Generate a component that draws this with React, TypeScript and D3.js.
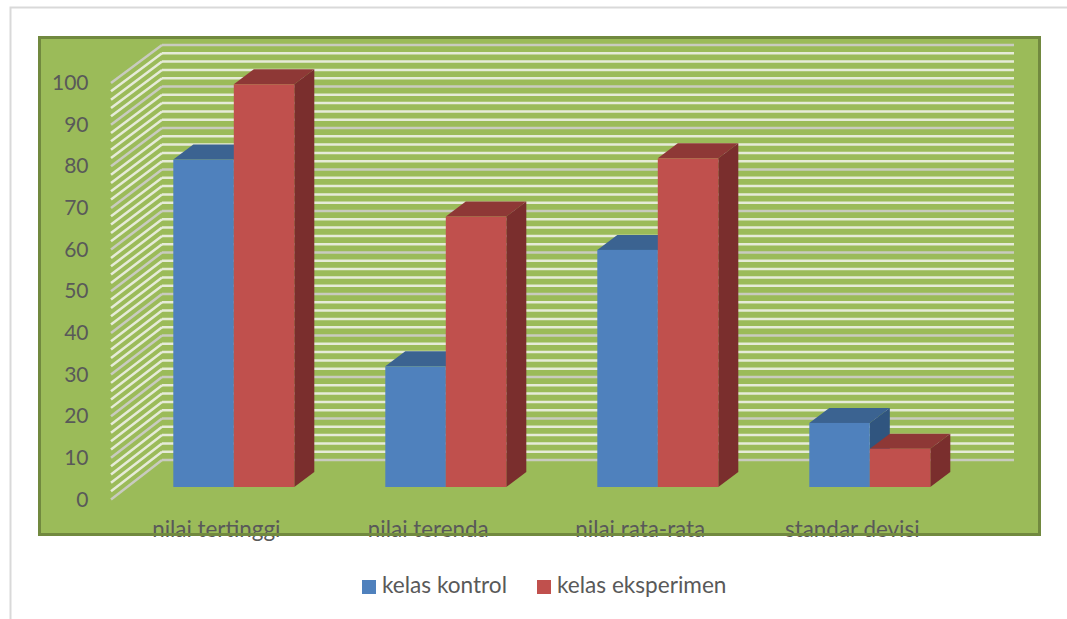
import React from "react";
import * as d3 from "d3";

// Chart data
const categories = ["nilai tertinggi", "nilai terenda", "nilai rata-rata", "standar devisi"];
const kelasKontrol = [78.7, 29, 57, 15.4];
const kelasEksperimen = [96.8, 65, 79, 9.2];
const seriesNames = ["kelas kontrol", "kelas eksperimen"];
const axisTicks = [0, 10, 20, 30, 40, 50, 60, 70, 80, 90, 100];

const WIDTH = 1067;
const HEIGHT = 619;
const FONT = "Lato, 'Open Sans', sans-serif";
const TEXT = "#595959";

const palette = [
  { front: "#4f81bd", top: "#3b6391", side: "#30557f" },
  { front: "#c0504d", top: "#8e3836", side: "#7a2e2d" },
];

// Oblique projection: the side wall runs from the front plane to the back wall.
const wallLeft = 162;
const wallRight = 1014;
const frontLeft = 111;
const yFront = d3.scaleLinear().domain([0, 100]).range([499.5, 83]);
const yWall = d3.scaleLinear().domain([0, 100]).range([460, 45]);
const yBar = d3.scaleLinear().domain([0, 100]).range([487, 71]);

const xGroup = d3.scaleBand<string>().domain(categories).range([127.8, 127.8 + 4 * 212]);
const xSeries = d3.scaleBand<number>().domain([0, 1]).range([-60.5, 60.5]);
const depthX = 20;
const depthY = -15;

const gridValues = d3.range(0, 101, 2);

function Bar({ x, w, value, colors }: { x: number; w: number; value: number; colors: typeof palette[number] }) {
  const top = yBar(value);
  const bottom = yBar(0);
  const face = (pts: [number, number][]) => {
    const p = d3.path();
    pts.forEach(([a, b], i) => (i ? p.lineTo(a, b) : p.moveTo(a, b)));
    p.closePath();
    return p.toString();
  };
  return (
    <g>
      <path
        d={face([[x, top], [x + depthX, top + depthY], [x + w + depthX, top + depthY], [x + w, top]])}
        fill={colors.top}
      />
      <path
        d={face([[x + w, top], [x + w + depthX, top + depthY], [x + w + depthX, bottom + depthY], [x + w, bottom]])}
        fill={colors.side}
      />
      <rect x={x} y={top} width={w} height={bottom - top} fill={colors.front} />
    </g>
  );
}

export default function App() {
  const series = [kelasKontrol, kelasEksperimen];
  return (
    <svg
      width={WIDTH}
      height={HEIGHT}
      viewBox={`0 0 ${WIDTH} ${HEIGHT}`}
      style={{ position: "absolute", left: 0, top: 0, background: "#fff" }}
      fontFamily={FONT}
    >
      {/* Outer chart frame, open on the right and bottom */}
      <path d={`M10.5 ${HEIGHT} V7.5 H${WIDTH}`} fill="none" stroke="#d9d9d9" strokeWidth={2} />

      <rect x={38} y={36} width={1003} height={500} fill="#9bbb59" />

      {/* Gridlines along the side wall and the back wall */}
      {gridValues.map((v) => {
        const major = v % 10 === 0;
        const stroke = major ? "#c9cbbf" : "#e6ebd8";
        return (
          <g key={v} stroke={stroke} strokeWidth={2.5} fill="none">
            <line x1={frontLeft} y1={yFront(v)} x2={wallLeft} y2={yWall(v)} />
            <line x1={wallLeft} y1={yWall(v)} x2={wallRight} y2={yWall(v)} />
          </g>
        );
      })}

      {/* Value axis labels */}
      {axisTicks.map((t) => (
        <text key={t} x={88.5} y={yFront(t)} dy="0.34em" textAnchor="end" fontSize={21} fill={TEXT}>
          {t}
        </text>
      ))}

      {/* Bars: each group draws blue first so the red bar overlaps it */}
      {categories.map((c, i) => (
        <g key={c}>
          {series.map((values, s) => (
            <Bar
              key={s}
              x={xGroup(c)! + xGroup.bandwidth() / 2 + xSeries(s)!}
              w={xSeries.bandwidth()}
              value={values[i]}
              colors={palette[s]}
            />
          ))}
        </g>
      ))}

      {/* Category labels sit on the border, which paints over their lower edge */}
      {categories.map((c) => (
        <text
          key={c}
          x={xGroup(c)! + xGroup.bandwidth() / 2 - 17.5}
          y={537}
          textAnchor="middle"
          fontSize={22.4}
          fill={TEXT}
        >
          {c}
        </text>
      ))}
      <rect x={39.5} y={37.5} width={1000} height={497} fill="none" stroke="#71893f" strokeWidth={3} />

      {/* Legend */}
      {seriesNames.map((name, s) => {
        const lx = [362, 537][s];
        return (
          <g key={name}>
            <rect x={lx} y={580} width={14} height={14} fill={palette[s].front} />
            <text x={lx + 20} y={593} fontSize={22.6} fill={TEXT}>
              {name}
            </text>
          </g>
        );
      })}
    </svg>
  );
}
